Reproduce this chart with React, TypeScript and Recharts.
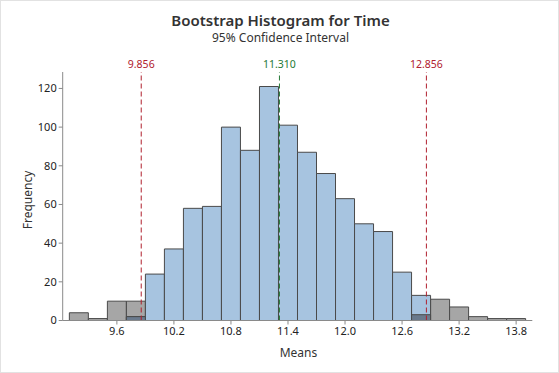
import React from "react";
import {
  ComposedChart,
  Bar,
  XAxis,
  YAxis,
  ReferenceLine,
} from "recharts";

// ---- data ----
const binCenters = [
  9.2, 9.4, 9.6, 9.8, 10.0, 10.2, 10.4, 10.6, 10.8, 11.0, 11.2, 11.4,
  11.6, 11.8, 12.0, 12.2, 12.4, 12.6, 12.8, 13.0, 13.2, 13.4, 13.6, 13.8,
];
// bootstrap means outside the 95% CI (grey)
const outsideCounts = [
  4, 1, 10, 10, 0, 0, 0, 0, 0, 0, 0, 0,
  0, 0, 0, 0, 0, 0, 3, 11, 7, 2, 1, 1,
];
// bootstrap means inside the 95% CI (blue)
const insideCounts = [
  0, 0, 0, 2, 24, 37, 58, 59, 100, 88, 121, 101,
  87, 76, 63, 50, 46, 25, 13, 0, 0, 0, 0, 0,
];
const xTicks = [9.6, 10.2, 10.8, 11.4, 12.0, 12.6, 13.2, 13.8];
const yTicks = [0, 20, 40, 60, 80, 100, 120];
const ciLower = 9.856;
const ciMean = 11.31;
const ciUpper = 12.856;
const ciLowerLabel = "9.856";
const ciMeanLabel = "11.310";
const ciUpperLabel = "12.856";
const titleText = "Bootstrap Histogram for Time";
const subtitleText = "95% Confidence Interval";
const xLabel = "Means";
const yLabel = "Frequency";

const tableData = binCenters.map((b, i) => {
  const g = outsideCounts[i];
  const bl = insideCounts[i];
  const ov = Math.min(g, bl);
  return {
    bin: b,
    outside: g > 0 ? g : null,
    inside: bl > 0 ? bl : null,
    overlap: ov > 0 ? ov : null,
  };
});

// ---- styling ----
const FONT = "'Noto Sans', 'Open Sans', sans-serif";
const W = 559;
const H = 373;
const BIN_HALF = 0.1;
const X_PAD = 0.07; // axis extends beyond first/last bin edge
const xMin = binCenters[0] - BIN_HALF - X_PAD;
const xMax = binCenters[binCenters.length - 1] + BIN_HALF + X_PAD;
const PLOT_LEFT = 62.7;
const PLOT_RIGHT = 532.3;
const plotW = PLOT_RIGHT - PLOT_LEFT;
const padPx = (X_PAD / (xMax - xMin)) * plotW;

const axisColor = "#8a8a8a";
const tickText = { fill: "#222", fontSize: 11, fontFamily: FONT };
const barStroke = "#4a4a4a";
const blueFill = "#a7c4e0";
const greyFill = "#a6a6a6";
const overlapFill = "#6a7a8d";
const red = "#b0202e";
const green = "#257a36";

export default function App() {
  return (
    <div
      style={{
        position: "absolute",
        left: 0,
        top: 0,
        width: W,
        height: H,
        background: "#fff",
        fontFamily: FONT,
        overflow: "hidden",
        boxSizing: "border-box",
        border: "1px solid #e2e2e2",
      }}
    >
      <div
        style={{
          position: "absolute",
          left: 0,
          top: 12,
          width: W,
          textAlign: "center",
          fontSize: 15,
          lineHeight: "15px",
          fontWeight: 600,
          color: "#333",
          whiteSpace: "nowrap",
        }}
      >
        {titleText}
      </div>
      <div
        style={{
          position: "absolute",
          left: 0,
          top: 30.5,
          width: W,
          textAlign: "center",
          fontSize: 12,
          lineHeight: "12px",
          color: "#333",
          whiteSpace: "nowrap",
        }}
      >
        {subtitleText}
      </div>
      <div
        style={{
          position: "absolute",
          left: PLOT_LEFT,
          width: plotW,
          top: 346.3,
          textAlign: "center",
          fontSize: 12,
          lineHeight: "12px",
          color: "#333",
        }}
      >
        {xLabel}
      </div>
      <div
        style={{
          position: "absolute",
          left: 27 - 50,
          top: 199 - 6,
          width: 100,
          height: 12,
          textAlign: "center",
          fontSize: 12,
          lineHeight: "12px",
          color: "#333",
          transform: "rotate(-90deg)",
          transformOrigin: "50% 50%",
        }}
      >
        {yLabel}
      </div>
      <div style={{ position: "absolute", left: -1, top: -1 }}>
        <ComposedChart
          width={W}
          height={H}
          data={tableData}
          margin={{ top: 72, right: W - PLOT_RIGHT, bottom: 22.5, left: 0 }}
          barCategoryGap={0}
          barGap={0}
        >
          <XAxis xAxisId="g" dataKey="bin" type="category" hide height={0} padding={{ left: padPx, right: padPx }} />
          <XAxis xAxisId="b" dataKey="bin" type="category" hide height={0} padding={{ left: padPx, right: padPx }} />
          <XAxis xAxisId="o" dataKey="bin" type="category" hide height={0} padding={{ left: padPx, right: padPx }} />
          <XAxis
            xAxisId="n"
            type="number"
            dataKey="bin"
            domain={[xMin, xMax]}
            allowDataOverflow
            ticks={xTicks}
            tickFormatter={(v: number) => v.toFixed(1)}
            tick={tickText}
            tickSize={4}
            tickMargin={3}
            height={30}
            stroke={axisColor}
            interval={0}
          />
          <XAxis
            xAxisId="top"
            orientation="top"
            type="number"
            dataKey="bin"
            domain={[xMin, xMax]}
            allowDataOverflow
            tick={false}
            tickLine={false}
            height={0}
            stroke={axisColor}
          />
          <YAxis
            yAxisId="y"
            domain={[0, 128.5]}
            ticks={yTicks}
            allowDataOverflow
            width={PLOT_LEFT}
            tick={tickText}
            tickSize={4}
            tickMargin={2}
            stroke={axisColor}
            interval={0}
          />
          <YAxis
            yAxisId="r"
            orientation="right"
            domain={[0, 128.5]}
            width={0}
            tick={false}
            tickLine={false}
            stroke={axisColor}
          />
          <Bar
            xAxisId="g"
            yAxisId="y"
            dataKey="outside"
            fill={greyFill}
            stroke={barStroke}
            strokeWidth={1}
            isAnimationActive={false}
          />
          <Bar
            xAxisId="b"
            yAxisId="y"
            dataKey="inside"
            fill={blueFill}
            stroke={barStroke}
            strokeWidth={1}
            isAnimationActive={false}
          />
          <Bar
            xAxisId="o"
            yAxisId="y"
            dataKey="overlap"
            fill={overlapFill}
            stroke={barStroke}
            strokeWidth={1}
            isAnimationActive={false}
          />
          <ReferenceLine
            xAxisId="n"
            yAxisId="y"
            x={ciLower}
            stroke={red}
            strokeDasharray="5 3"
            strokeWidth={1}
            label={{ value: ciLowerLabel, position: "top", offset: 4, fill: red, fontSize: 10.5, fontFamily: FONT }}
          />
          <ReferenceLine
            xAxisId="n"
            yAxisId="y"
            x={ciMean}
            stroke={green}
            strokeDasharray="5 3"
            strokeWidth={1}
            label={{ value: ciMeanLabel, position: "top", offset: 4, fill: green, fontSize: 10.5, fontFamily: FONT }}
          />
          <ReferenceLine
            xAxisId="n"
            yAxisId="y"
            x={ciUpper}
            stroke={red}
            strokeDasharray="5 3"
            strokeWidth={1}
            label={{ value: ciUpperLabel, position: "top", offset: 4, fill: red, fontSize: 10.5, fontFamily: FONT }}
          />
        </ComposedChart>
      </div>
    </div>
  );
}
